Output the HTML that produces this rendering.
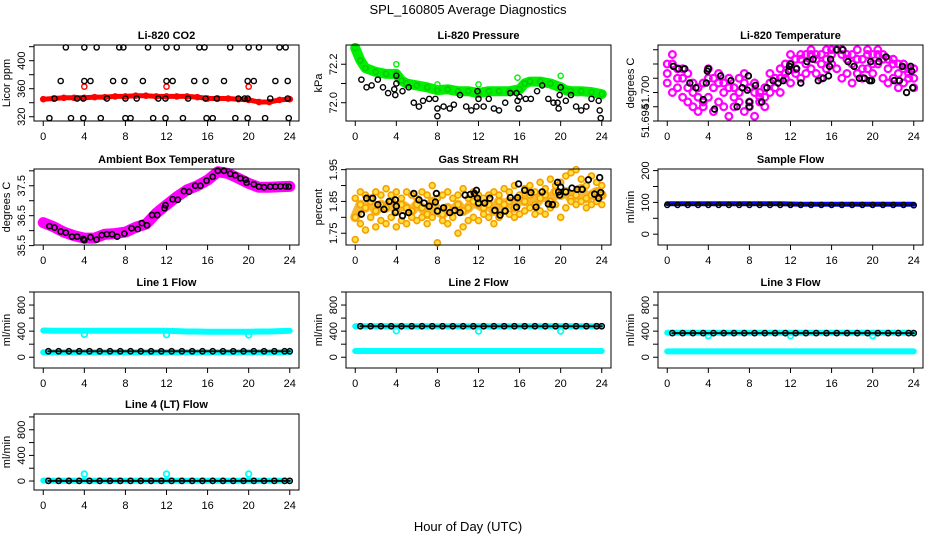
<!DOCTYPE html>
<html><head><meta charset="utf-8">
<style>
html,body{margin:0;padding:0;background:#fff;}
svg{display:block;font-family:"Liberation Sans",Arial,sans-serif;}
</style></head>
<body>
<svg id="chart" width="936" height="540" viewBox="0 0 936 540" xmlns="http://www.w3.org/2000/svg">
<text x="468" y="14" text-anchor="middle" font-size="13">SPL_160805  Average Diagnostics</text>
<text x="468" y="531" text-anchor="middle" font-size="13">Hour of Day (UTC)</text>
</svg>
<script>
// ---------- data ----------
const hourTicks = [0,4,8,12,16,20,24];
const hoursHourly = [0,1,2,3,4,5,6,7,8,9,10,11,12,13,14,15,16,17,18,19,20,21,22,23,24];
const hoursHalf = [0,0.5,1,1.5,2,2.5,3,3.5,4,4.5,5,5.5,6,6.5,7,7.5,8,8.5,9,9.5,10,10.5,11,11.5,12,12.5,13,13.5,14,14.5,15,15.5,16,16.5,17,17.5,18,18.5,19,19.5,20,20.5,21,21.5,22,22.5,23,23.5,24];
const outlierHours = [4,12,20];

// CO2
const co2Red = [345,346,347,347,347,348,348,349,349,350,350,349,349,349,349,348,346,346,346,345,344,341,341,344,345];
const co2RedOut = [363,363,363];
const co2BlackX = [2.2,4,5.2,7.4,7.8,10.2,12,13,15.2,15.7,18.2,20,21,23,23.6, 1.7,4,4.6,6.8,7.9,9.7,12,12.6,14.7,15.8,17.6,19.9,20.5,22.6,23.8, 1.1,3.3,3.9,6.2,8,9.1,11.2,11.9,14.1,15.8,16.9,19,19.6,19.9,22.1,23.8, 0.6,2.7,3.9,5.6,8,8.5,10.7,11.9,13.6,15.9,16.5,18.7,19.9,21.6,23.9];
const co2BlackY = [419,419,419,419,419,419,419,419,419,419,419,419,419,419,419, 371,371,371,371,371,371,371,371,371,371,371,371,371,371,371, 346,346,346,346,346,346,346,346,346,346,346,346,346,346,346,346, 318,318,318,318,318,318,318,318,318,318,318,318,318,318,318];

// Pressure
const presGreenX = [0,0.5,1,2,3,4,4.5,5,6,7,8,9,10,11,12,13,14,15,16,16.5,17,18,19,20,20.5,21,22,23,24];
const presGreen = [72.285,72.22,72.18,72.16,72.15,72.15,72.115,72.10,72.09,72.08,72.065,72.07,72.06,72.06,72.05,72.06,72.06,72.06,72.07,72.10,72.11,72.11,72.10,72.08,72.065,72.06,72.06,72.055,72.045];
const presGreenOutX = [0,4,8,12,15.8,20];
const presGreenOut = [72.29,72.2,72.095,72.095,72.13,72.14];
const presBlackX = [0.6,1.1,1.6,2.2,2.7,3.2,3.8,3.9,4.0,4.0,4.6,5.2,5.7,6.2,6.6,7.2,7.8,8.0,8.0,8.6,9.2,9.6,10.2,10.8,11.3,11.8,11.9,12.0,12.5,13.0,13.5,14.0,14.6,15.1,15.7,15.8,15.9,16.0,16.6,17.1,17.7,18.2,18.8,19.3,19.7,19.8,19.9,20.0,20.5,21.0,21.5,22.0,22.5,23.0,23.7,23.8,23.9];
const presBlack = [72.12,72.08,72.09,72.12,72.08,72.05,72.07,72.04,72.14,72.1,72.06,72.08,72.0,71.98,72.01,72.02,72.02,71.97,71.93,71.98,71.97,71.99,72.04,71.98,71.96,71.98,72.06,72.02,71.98,72.02,71.97,71.96,72.0,72.05,72.05,72.01,71.97,72.03,72.02,72.02,72.06,72.09,72.02,72.0,72.0,71.97,72.04,72.08,72.01,72.04,71.98,71.96,71.98,72.02,72.01,71.96,71.92];

// Li-820 temperature
const tempMagA = [51.704,51.706,51.703,51.705,51.701,51.702,51.699,51.698,51.703,51.701,51.702,51.700,51.701,51.699,51.700,51.702,51.698,51.700,51.699,51.697,51.702,51.701,51.703,51.704,51.706,51.705,51.707,51.706,51.708,51.707,51.706,51.705,51.708,51.709,51.708,51.707,51.706,51.707,51.705,51.708,51.706,51.708,51.707,51.705,51.706,51.704,51.705,51.704,51.703];
const tempMagB = [51.702,51.700,51.701,51.699,51.698,51.697,51.696,51.697,51.699,51.696,51.698,51.697,51.695,51.697,51.698,51.696,51.697,51.695,51.698,51.699,51.700,51.701,51.700,51.703,51.702,51.704,51.703,51.704,51.705,51.704,51.703,51.707,51.706,51.705,51.703,51.704,51.702,51.704,51.703,51.705,51.704,51.706,51.703,51.702,51.703,51.701,51.702,51.703,51.701];
const tempMagC = [51.706,51.708,51.705,51.703,51.704,51.700,51.701,51.702,51.705,51.703,51.704,51.702,51.703,51.701,51.703,51.704,51.701,51.702,51.700,51.701,51.704,51.703,51.705,51.706,51.708,51.707,51.708,51.708,51.709,51.708,51.708,51.709,51.709,51.709,51.709,51.708,51.708,51.709,51.707,51.709,51.708,51.709,51.708,51.707,51.707,51.706,51.706,51.705,51.705];
const tempBlackX = [0.6,1.1,1.7,2.2,2.8,3.5,3.8,3.9,4.0,4.6,5.2,6.2,6.8,7.3,7.8,7.9,8.0,8.0,8.6,9.2,9.7,10.3,10.8,11.3,11.8,11.9,12.0,12.6,13.0,13.6,14.2,14.7,15.2,15.7,15.8,15.9,16.5,17.1,17.6,18.2,18.7,19.2,19.7,19.8,19.9,20.6,21.3,22.1,22.6,22.9,23.3,23.7,23.8,23.9];
const tempBlack = [51.7055,51.705,51.705,51.702,51.701,51.6985,51.702,51.7045,51.705,51.6965,51.7035,51.7025,51.697,51.701,51.7005,51.7035,51.698,51.697,51.7015,51.698,51.701,51.7025,51.702,51.7025,51.7045,51.7055,51.706,51.705,51.702,51.7065,51.707,51.7025,51.703,51.7035,51.7055,51.707,51.709,51.709,51.7065,51.7055,51.703,51.703,51.7025,51.7065,51.7025,51.7065,51.7075,51.7025,51.7025,51.7055,51.7,51.7055,51.7045,51.701];

// Ambient box temperature
const ambMag = [36.27,36.13,35.95,35.83,35.75,35.75,35.88,35.9,35.95,36.11,36.22,36.58,36.86,37.13,37.36,37.5,37.69,37.97,37.91,37.75,37.58,37.45,37.45,37.47,37.48];
const ambBlackX = [0.6,1.1,1.7,2.2,2.8,3.3,3.9,4.0,4.6,5.2,5.7,6.2,6.7,7.2,7.9,8.6,9.2,9.6,10.1,10.6,11.1,11.8,11.9,12.6,13.1,13.7,14.2,14.8,15.3,15.9,16.5,17.0,17.6,18.2,18.7,19.2,19.7,19.8,20.5,21.0,21.5,22.1,22.6,23.1,23.6,23.9];
const ambBlack = [36.15,36.1,35.97,35.93,35.8,35.8,35.72,35.68,35.78,35.7,35.85,35.88,35.88,35.8,35.9,36.08,36.05,36.25,36.18,36.52,36.52,36.75,36.85,37.05,37.03,37.32,37.3,37.5,37.5,37.67,37.8,38.0,38.0,37.9,37.85,37.75,37.7,37.6,37.55,37.47,37.45,37.47,37.47,37.48,37.48,37.47];

// Gas stream RH
const rhA = [1.80,1.84,1.83,1.85,1.82,1.84,1.83,1.85,1.82,1.84,1.83,1.82,1.84,1.83,1.81,1.85,1.82,1.81,1.83,1.82,1.84,1.82,1.83,1.85,1.84,1.83,1.84,1.82,1.85,1.84,1.85,1.83,1.86,1.85,1.87,1.84,1.86,1.87,1.85,1.88,1.87,1.88,1.86,1.87,1.89,1.86,1.87,1.88,1.87];
const rhB = [1.73,1.78,1.76,1.80,1.77,1.79,1.78,1.80,1.77,1.79,1.78,1.80,1.79,1.80,1.78,1.80,1.72,1.79,1.78,1.80,1.75,1.77,1.79,1.80,1.79,1.81,1.80,1.78,1.80,1.82,1.81,1.80,1.81,1.82,1.83,1.81,1.82,1.81,1.83,1.84,1.80,1.83,1.85,1.84,1.85,1.83,1.84,1.85,1.84];
const rhC = [1.86,1.88,1.87,1.86,1.88,1.87,1.89,1.87,1.88,1.86,1.88,1.87,1.86,1.88,1.87,1.90,1.86,1.87,1.88,1.86,1.87,1.89,1.86,1.88,1.87,1.86,1.87,1.88,1.87,1.89,1.88,1.90,1.87,1.89,1.90,1.88,1.91,1.89,1.92,1.90,1.91,1.93,1.94,1.95,1.92,1.90,1.93,1.91,1.90];
const rhBlackX = [0.6,1.1,1.7,2.2,2.8,3.3,3.9,3.9,4.0,4.6,5.2,5.7,6.2,6.7,7.2,7.8,7.9,8.0,8.6,9.2,9.7,10.2,10.7,11.2,11.6,11.8,11.9,12.0,12.6,13.1,13.6,14.1,14.6,15.1,15.7,15.8,15.9,16.5,17.1,17.6,18.2,18.8,19.2,19.7,19.8,19.9,20.0,20.5,21.1,21.6,22.1,22.7,23.3,23.7,23.8,23.9];
const rhBlack = [1.81,1.86,1.86,1.84,1.825,1.85,1.815,1.855,1.835,1.805,1.815,1.875,1.855,1.845,1.835,1.848,1.875,1.82,1.83,1.815,1.822,1.815,1.87,1.872,1.875,1.885,1.86,1.845,1.845,1.86,1.822,1.807,1.82,1.862,1.832,1.862,1.905,1.885,1.878,1.832,1.88,1.842,1.84,1.91,1.88,1.87,1.895,1.88,1.892,1.888,1.888,1.918,1.873,1.86,1.925,1.878];

// Flows (hourly)
const sampleBlue = [96,96,96,96,96,96,96,96,96,96,96,96,95,94,94,94,94,94,94,94,94,94,94,94,94];
const sampleBlack = [92,92,92,92,92,92,92,92,92,92,92,92,92,92,92,92,92,92,92,92,92,92,92,92,91];
const line1CyanHi = [410,405,405,405,405,405,405,405,405,405,405,405,405,400,395,395,390,390,390,390,390,395,395,400,405];
const line1CyanLo = [75,75,75,75,75,75,75,75,75,75,75,75,75,75,75,75,75,75,75,75,75,75,75,75,75];
const line1Black = [92,92,92,92,92,92,92,92,92,92,92,92,92,92,92,92,92,92,92,92,92,92,92,92,92];
const line1Out = [350,345,340];
const line2CyanHi = [475,475,475,475,475,475,475,475,475,475,475,475,475,475,475,475,475,475,475,475,475,475,475,475,475];
const line2CyanLo = [95,95,95,95,95,95,95,95,95,95,95,95,95,95,95,95,95,95,95,95,95,95,95,95,95];
const line2Black = [475,475,475,475,475,475,475,475,475,475,475,475,475,475,475,475,475,475,475,475,475,475,475,475,475];
const line2Out = [405,400,400];
const line3CyanHi = [375,375,375,375,375,375,375,375,375,375,375,375,375,375,375,375,375,375,375,375,375,375,375,375,375];
const line3CyanLo = [90,90,90,90,90,90,90,90,90,90,90,90,90,90,90,90,90,90,90,90,90,90,90,90,90];
const line3Black = [370,370,370,370,370,370,370,370,370,370,370,370,370,370,370,370,370,370,370,370,370,370,370,370,370];
const line3Out = [330,330,330];
const line4Cyan = [8,5,5,5,5,5,5,5,5,5,5,5,5,5,5,5,5,5,5,5,5,5,5,5,5];
const line4Black = [2,2,2,2,2,2,2,2,2,2,2,2,2,2,2,2,2,2,2,2,2,2,2,2,2];
const line4Out = [110,110,110];

// ---------- drawing ----------
const NS = "http://www.w3.org/2000/svg";
const svg = document.getElementById('chart');
const colX = [34, 346, 658];
const rowY = [[45,121],[169,245],[292,368],[414,490]];
const PW = 265;

function mk(tag, attrs, parent){
  const e = document.createElementNS(NS, tag);
  for (const k in attrs) e.setAttribute(k, attrs[k]);
  (parent||svg).appendChild(e);
  return e;
}

function makePanel(col, row, title, ylab, ydom, yticks, ylabels, name){
  const x0 = colX[col], x1 = x0 + PW, y0 = rowY[row][0], y1 = rowY[row][1];
  const g = mk('g', {});
  
  
  const sx = h => x0 + (h + 0.9) / 25.8 * PW;
  const sy = v => y1 - (v - ydom[0]) / (ydom[1] - ydom[0]) * (y1 - y0);
  const t = mk('text', {x:(x0+x1)/2, y:y0-6, 'text-anchor':'middle', 'font-size':11, 'font-weight':'bold'}, g);
  t.textContent = title;
  
  
  const xa = mk('g', {stroke:'#000','stroke-width':1}, g);
  
  
  mk('line', {x1:sx(0), x2:sx(24), y1:y1, y2:y1}, xa);
  hourTicks.forEach(h => {
    mk('line', {x1:sx(h), x2:sx(h), y1:y1, y2:y1+5}, xa);
    const l = mk('text', {x:sx(h), y:y1+19, 'text-anchor':'middle', 'font-size':11, stroke:'none'}, xa);
    l.textContent = h;
  });
  const ya = mk('g', {stroke:'#000','stroke-width':1}, g);
  
  
  mk('line', {x1:x0, x2:x0, y1:sy(yticks[0]), y2:sy(yticks[yticks.length-1])}, ya);
  yticks.forEach(v => {
    mk('line', {x1:x0-5, x2:x0, y1:sy(v), y2:sy(v)}, ya);
  });
  ylabels.forEach(v => {
    const yy = sy(parseFloat(v));
    const l = mk('text', {x:x0-9, y:yy, transform:`rotate(-90 ${x0-9} ${yy})`, 'text-anchor':'middle', 'font-size':11, stroke:'none'}, ya);
    l.textContent = v;
  });
  const yt = mk('text', {x:x0-24, y:(y0+y1)/2, transform:`rotate(-90 ${x0-24} ${(y0+y1)/2})`, 'text-anchor':'middle', 'font-size':11}, g);
  yt.textContent = ylab;
  
  
  const plot = mk('g', {}, g);
  
  
  mk('rect', {x:x0, y:y0, width:PW, height:y1-y0, fill:'none', stroke:'#000', 'stroke-width':1}, g);
  return {g:plot, sx, sy};
}

function pts(P, xs, ys, color, name, r, sw, fill){
  const s = mk('g', {fill: fill||'none', stroke:color, 'stroke-width': sw||1.4}, P.g);
  
  
  ys.forEach((v,i) => mk('circle', {cx:P.sx(xs[i]), cy:P.sy(v), r:r||2.6}, s));
}
function band(P, xs, ys, color, width, name){
  const d = ys.map((v,i) => (i?'L':'M') + P.sx(xs[i]).toFixed(1) + ' ' + P.sy(v).toFixed(1)).join(' ');
  const p = mk('path', {d, fill:'none', stroke:color, 'stroke-width':width, 'stroke-linejoin':'round', 'stroke-linecap':'round'}, P.g);
  
  
}

// Li-820 CO2
let P = makePanel(0,0,'Li-820 CO2','Licor ppm',[313.9,422.4],[320,340,360,380,400,420],['320','360','400'],'co2');
band(P, hoursHourly, co2Red, '#ff0000', 5, 'co2-red-band');
pts(P, hoursHourly, co2Red, '#ff0000', 'co2-red-points');
pts(P, outlierHours, co2RedOut, '#ff0000', 'co2-red-outliers');
pts(P, co2BlackX, co2BlackY, '#000', 'co2-black-points');

// Pressure
P = makePanel(1,0,'Li-820 Pressure','kPa',[71.905,72.3],[72.0,72.1,72.2],['72.0','72.2'],'pressure');
band(P, presGreenX, presGreen, '#00ee00', 10, 'pressure-green-band');
pts(P, presGreenX, presGreen, '#00cc00', 'pressure-green-points', 2.6, 1.4);
pts(P, presGreenOutX, presGreenOut, '#00ee00', 'pressure-green-outliers');
pts(P, presBlackX, presBlack, '#000', 'pressure-black-points');

// Li-820 Temperature
P = makePanel(2,0,'Li-820 Temperature','degrees C',[51.694,51.710],[51.694,51.697,51.700,51.703,51.706,51.709],['51.694','51.700'],'li820-temp');
pts(P, hoursHalf, tempMagA, '#ff00ff', 'li820-temp-magenta-a', 3.4, 2.2);
pts(P, hoursHalf, tempMagB, '#ff00ff', 'li820-temp-magenta-b', 3.4, 2.2);
pts(P, hoursHalf, tempMagC, '#ff00ff', 'li820-temp-magenta-c', 3.4, 2.2);
pts(P, tempBlackX, tempBlack, '#000', 'li820-temp-black-points', 2.8, 1.8);

// Ambient box temperature
P = makePanel(0,1,'Ambient Box Temperature','degrees C',[35.52,38.06],[35.5,36.0,36.5,37.0,37.5,38.0],['35.5','36.5','37.5'],'ambient-temp');
band(P, hoursHourly, ambMag, '#ff00ff', 11, 'ambient-temp-magenta-band');
pts(P, ambBlackX, ambBlack, '#000', 'ambient-temp-black-points', 2.6, 1.6);

// Gas Stream RH
P = makePanel(1,1,'Gas Stream RH','percent',[1.713,1.952],[1.75,1.80,1.85,1.90,1.95],['1.75','1.85','1.95'],'rh');
band(P, hoursHalf, rhA, '#f8b830', 10, 'rh-orange-band');
pts(P, hoursHalf, rhA, '#f5a000', 'rh-orange-a', 3, 1.6, '#ffe040');
pts(P, hoursHalf, rhB, '#f5a000', 'rh-orange-b', 3, 1.6, '#ffe040');
pts(P, hoursHalf, rhC, '#f5a000', 'rh-orange-c', 3, 1.6, '#ffe040');
pts(P, rhBlackX, rhBlack, '#000', 'rh-black-points', 2.8, 1.8);

// Sample flow
P = makePanel(2,1,'Sample Flow','ml/min',[-34,205],[0,50,100,150,200],['0','100','200'],'sample-flow');
band(P, hoursHourly, sampleBlue, '#0000ff', 5, 'sample-flow-blue-band');
band(P, hoursHourly, sampleBlack, '#111', 2, 'sample-flow-black-band');
pts(P, hoursHourly, sampleBlack, '#000', 'sample-flow-black-points');

function flowPanel(col,row,title,name,dom,hi,lo,blk,out){
  const Q = makePanel(col,row,title,'ml/min',dom,[0,200,400,600,800,1000],['0','400','800'],name);
  if (hi){ band(Q, hoursHourly, hi, '#00ffff', 6, name+'-cyan-high-band'); pts(Q, outlierHours, out, '#00ffff', name+'-cyan-outliers', 2.8, 1.8); }
  band(Q, hoursHourly, lo, '#00ffff', 6, name+'-cyan-low-band');
  const bx = hoursHourly.slice(0,24).map(h=>h+0.5).concat([24]);
  band(Q, bx, blk, '#111', 2, name+'-black-band');
  pts(Q, bx, blk, '#000', name+'-black-points', 2.6, 1.5);
  return Q;
}
flowPanel(0,2,'Line 1 Flow','line1-flow',[-165,1000],line1CyanHi,line1CyanLo,line1Black,line1Out);
flowPanel(1,2,'Line 2 Flow','line2-flow',[-165,1000],line2CyanHi,line2CyanLo,line2Black,line2Out);
flowPanel(2,2,'Line 3 Flow','line3-flow',[-165,1000],line3CyanHi,line3CyanLo,line3Black,line3Out);
const P4 = flowPanel(0,3,'Line 4 (LT) Flow','line4-flow',[-140,1046],null,line4Cyan,line4Black,line4Out);
pts(P4, outlierHours, line4Out, '#00ffff', 'line4-flow-cyan-outliers', 2.8, 1.8);
</script>
</body></html>
